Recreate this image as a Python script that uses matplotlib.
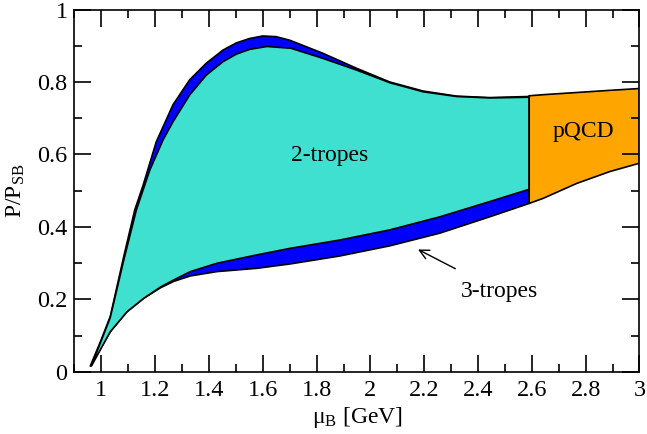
import numpy as np
import matplotlib
matplotlib.use('Agg')
import matplotlib.pyplot as plt
from matplotlib.ticker import MultipleLocator, FuncFormatter

plt.rcParams['font.family'] = ['Liberation Serif', 'DejaVu Serif']
plt.rcParams['mathtext.fontset'] = 'custom'
plt.rcParams['mathtext.rm'] = 'Liberation Serif'
plt.rcParams['mathtext.it'] = 'Liberation Serif:italic'

# 3-tropes envelope (blue), upper and lower edge
mu_3_up = [0.958, 1.000, 1.033, 1.083, 1.124, 1.155, 1.204, 1.266, 1.328, 1.390, 1.452,
           1.502, 1.551, 1.600, 1.650, 1.701, 1.824, 1.948, 2.072, 2.196, 2.320,
           2.443, 2.590]
p_3_up = [0.015, 0.090, 0.153, 0.318, 0.447, 0.515, 0.635, 0.737, 0.806, 0.852, 0.888,
          0.908, 0.920, 0.927, 0.925, 0.915, 0.879, 0.838, 0.800, 0.775, 0.761,
          0.757, 0.760]
mu_3_lo = [0.958, 1.033, 1.095, 1.157, 1.219, 1.269, 1.331, 1.430, 1.578, 1.701,
           1.886, 2.072, 2.258, 2.443, 2.590]
p_3_lo = [0.015, 0.111, 0.166, 0.203, 0.232, 0.250, 0.265, 0.277, 0.286, 0.298,
          0.320, 0.348, 0.383, 0.428, 0.465]

# 2-tropes envelope (turquoise)
mu_2_up = [0.962, 1.033, 1.083, 1.130, 1.180, 1.229, 1.266, 1.328, 1.390, 1.452,
           1.502, 1.551, 1.616, 1.705, 1.824, 1.948, 2.072, 2.196, 2.320, 2.443, 2.590]
p_2_up = [0.015, 0.150, 0.308, 0.447, 0.557, 0.640, 0.690, 0.764, 0.819, 0.856,
          0.877, 0.890, 0.898, 0.893, 0.865, 0.833, 0.798, 0.773, 0.760, 0.756, 0.758]
mu_2_lo = [0.962, 1.033, 1.095, 1.157, 1.219, 1.269, 1.331, 1.430, 1.578, 1.701,
           1.886, 2.072, 2.258, 2.443, 2.590]
p_2_lo = [0.015, 0.111, 0.166, 0.203, 0.234, 0.254, 0.277, 0.300, 0.323, 0.341,
          0.364, 0.392, 0.428, 0.470, 0.504]

# pQCD band
mu_pq = [2.590, 2.642, 2.766, 2.890, 3.000]
p_pq_up = [0.762, 0.765, 0.771, 0.777, 0.782]
p_pq_lo = [0.465, 0.479, 0.520, 0.553, 0.576]

fig = plt.figure(figsize=(6.47, 4.34), dpi=100)
ax = fig.add_axes([0.1151, 0.1429, 0.8733, 0.8352])

edge = dict(edgecolor='black', linewidth=1.2)
ax.fill(np.r_[mu_3_up, mu_3_lo[::-1]], np.r_[p_3_up, p_3_lo[::-1]],
        facecolor='#0000ff', **edge)
ax.fill(np.r_[mu_2_up, mu_2_lo[::-1]], np.r_[p_2_up, p_2_lo[::-1]],
        facecolor='#40e0d0', **edge)
ax.fill(np.r_[mu_pq, mu_pq[::-1]], np.r_[p_pq_up, p_pq_lo[::-1]],
        facecolor='#ffa500', **edge)

ax.text(1.85, 0.597, '2-tropes', fontsize=17, ha='center', va='center')
ax.text(2.79, 0.663, 'pQCD', fontsize=17, ha='center', va='center')
ax.annotate('3-tropes', xy=(2.177, 0.338), xytext=(2.48, 0.222),
            fontsize=17, ha='center', va='center',
            arrowprops=dict(arrowstyle='->', color='black', lw=1.0,
                            shrinkA=15, shrinkB=0))

ax.set_xlim(0.9, 3.0)
ax.set_ylim(0, 1)
ax.xaxis.set_major_locator(MultipleLocator(0.2))
ax.xaxis.set_minor_locator(MultipleLocator(0.1))
ax.yaxis.set_major_locator(MultipleLocator(0.2))
ax.yaxis.set_minor_locator(MultipleLocator(0.1))
fmt = FuncFormatter(lambda v, pos: '%g' % round(v, 2))
ax.xaxis.set_major_formatter(fmt)
ax.yaxis.set_major_formatter(fmt)

ax.tick_params(which='both', direction='in', top=True, right=True, width=1.2)
ax.tick_params(which='major', length=12, labelsize=17.5)
ax.tick_params(which='minor', length=6)
ax.tick_params(axis='x', which='major', pad=6)
ax.tick_params(axis='y', which='major', pad=5)
for s in ax.spines.values():
    s.set_linewidth(1.2)

ax.set_xlabel(r'μ$_{\mathrm{B}}$ [GeV]', fontsize=17, labelpad=3)
ax.set_ylabel(r'P/P$_{\mathrm{SB}}$', fontsize=17, labelpad=7)

fig.savefig('out.png', dpi=100)
